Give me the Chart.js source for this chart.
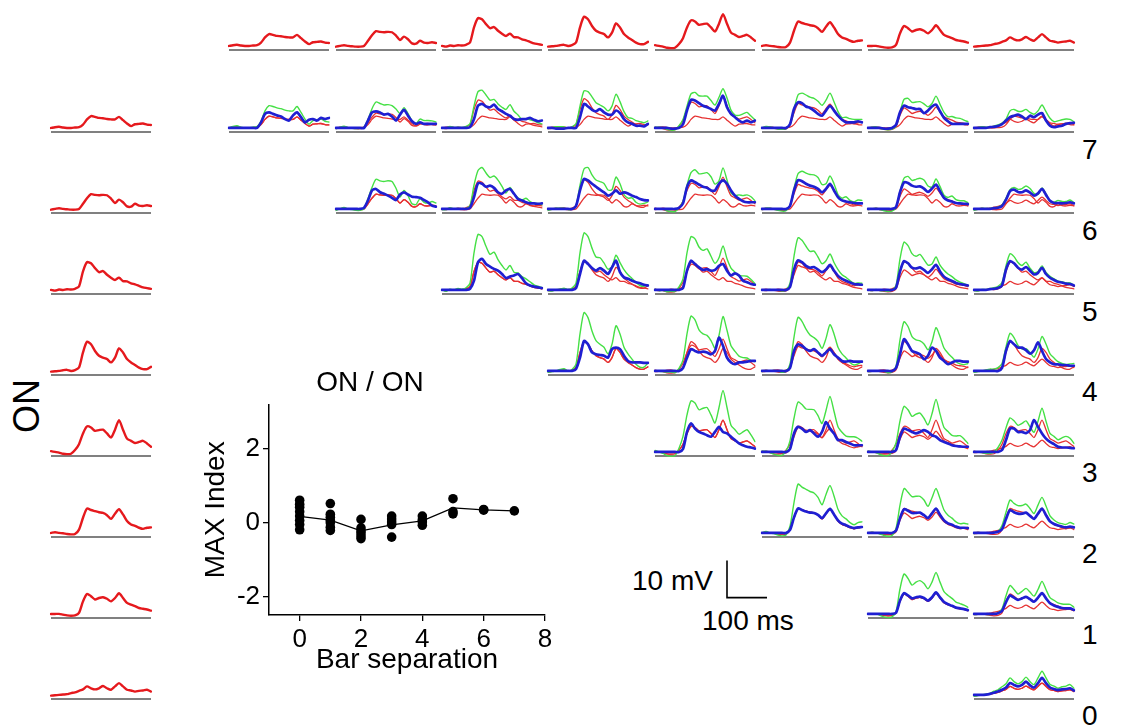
<!DOCTYPE html>
<html>
<head>
<meta charset="utf-8">
<script src="https://cdn.jsdelivr.net/npm/chart.js@4.4.1/dist/chart.umd.min.js"></script>
<style>
  html, body { margin: 0; padding: 0; background: #fff; }
  #fig { position: relative; width: 1141px; height: 726px; overflow: hidden;
         font-family: "Liberation Sans", Arial, Helvetica, sans-serif; color: #000; }
  #fig canvas { position: absolute; }
  .lbl { position: absolute; font-size: 28px; line-height: 1; white-space: nowrap; }
</style>
</head>
<body>
<div id="fig"></div>
<script>
// sample times of every trace (ms)
const timeMs = [0,10,20,30,40,50,60,70,80,90,100,110,120,130,140,150,160,170,180,190,200,210,220,230,240,250];

// single bar responses (mV above rest), bar positions 0..7
const bar0 = [0,0.2,0.3,0.1,0,0,0.1,0.2,0.9,2.3,3.2,3.0,2.7,2.6,2.4,2.3,2.3,3.0,2.1,1.2,0.5,1.0,1.1,1.2,0.9,0.8];
const bar1 = [-0.2,0,0.2,0,-0.1,-0.2,-0.2,0,1.4,2.9,4.0,3.8,3.7,3.8,3.7,2.8,1.6,2.5,1.8,0.7,0.6,1.4,0.9,0.8,1.0,0.8];
const bar2 = [0,-0.2,0.1,0,0.2,0.1,0.3,0.9,5.0,7.5,7.2,5.9,4.8,5.1,4.1,3.3,2.7,3.3,2.4,2.3,1.8,1.5,1.1,0.7,0.5,0.3];
const bar3 = [-0.2,-0.1,0,0.2,0.3,0,0.2,0.9,5.0,7.9,7.2,5.4,4.1,3.6,3.2,2.3,3.6,6.1,5.0,3.2,2.3,1.6,0.9,0.5,0.5,1.1];
const bar4 = [0.2,0,-0.2,-0.5,-0.6,-0.5,0.5,2.1,5.0,6.9,6.6,5.7,5.9,6.0,5.0,3.9,6.0,8.6,6.0,3.6,3.0,2.4,2.7,3.0,2.3,1.4];
const bar5 = [0,0.2,0,-0.1,-0.3,-0.4,-0.3,0.9,4.1,6.6,6.2,5.9,5.6,5.4,4.8,3.8,5.2,6.4,5.0,3.2,2.3,1.9,1.4,1.1,1.4,1.5];
const bar6 = [0,0,0,-0.2,-0.4,-0.5,-0.4,0.3,3.4,5.4,4.8,3.9,4.3,4.5,4.1,3.4,4.3,5.6,4.3,3.0,2.5,2.1,1.6,1.4,1.2,0.9];
const bar7 = [-0.2,-0.1,0,0.1,0.2,0.5,0.7,1.1,1.5,2.3,1.8,1.5,1.8,2.4,1.8,1.4,2.3,3.2,2.3,1.4,1.2,0.9,1.1,1.2,1.4,0.9];

// linear sum of the two single bar responses (green)
const sum00 = [0,0.4,0.6,0.2,0,0,0.2,0.4,1.8,4.6,6.0,5.8,5.4,5.2,4.8,4.6,4.6,5.8,4.2,2.4,1.0,2.0,2.2,2.4,1.8,1.6];
const sum01 = [-0.2,0.2,0.5,0.1,-0.1,-0.2,-0.1,0.2,2.3,5.2,7.0,6.6,6.2,6.3,6.0,5.1,3.9,5.5,3.9,1.9,1.1,2.4,2.0,2.0,1.9,1.6];
const sum02 = [0,0,0.4,0.1,0.2,0.1,0.4,1.1,5.9,9.8,10.2,8.9,7.5,7.7,6.5,5.6,5.0,6.3,4.5,3.5,2.3,2.5,2.2,1.9,1.4,1.1];
const sum03 = [-0.2,0.1,0.3,0.3,0.3,0,0.3,1.1,5.9,10.0,9.8,8.4,6.8,6.2,5.6,4.6,5.9,9.1,7.1,4.4,2.8,2.6,2.0,1.7,1.4,1.9];
const sum04 = [0.2,0.2,0.1,-0.4,-0.6,-0.5,0.6,2.3,5.9,9.2,9.6,8.7,8.6,8.6,7.4,6.2,8.3,10.6,8.1,4.8,3.5,3.4,3.8,4.2,3.2,2.2];
const sum05 = [0,0.4,0.3,0,-0.3,-0.4,-0.2,1.1,5.0,8.9,9.4,8.9,8.3,8.0,7.2,6.1,7.5,9.4,7.1,4.4,2.8,2.9,2.5,2.3,2.3,2.3];
const sum06 = [0,0.2,0.3,-0.1,-0.4,-0.5,-0.3,0.5,4.3,7.7,8.0,6.9,7.0,7.1,6.5,5.7,6.6,8.6,6.4,4.2,3.0,3.1,2.7,2.6,2.1,1.7];
const sum07 = [-0.2,0.1,0.3,0.2,0.2,0.5,0.8,1.3,2.4,4.6,5.0,4.5,4.5,5.0,4.2,3.7,4.6,6.2,4.4,2.6,1.7,1.9,2.2,2.4,2.3,1.7];
const sum11 = [-0.4,0,0.4,0,-0.2,-0.4,-0.4,0,2.8,5.8,8.0,7.6,7.4,7.6,7.4,5.6,3.2,5.0,3.6,1.4,1.2,2.8,1.8,1.6,2.0,1.6];
const sum12 = [-0.2,-0.2,0.3,0,0.1,-0.1,0.1,0.9,6.4,10.4,11.2,9.7,8.5,8.9,7.8,6.1,4.3,5.8,4.2,3.0,2.4,2.9,2.0,1.5,1.5,1.1];
const sum13 = [-0.4,-0.1,0.2,0.2,0.2,-0.2,0,0.9,6.4,10.8,11.2,9.2,7.8,7.4,6.9,5.1,5.2,8.6,6.8,3.9,2.9,3.0,1.8,1.3,1.5,1.9];
const sum14 = [0,0,0,-0.5,-0.7,-0.7,0.3,2.1,6.4,9.8,10.6,9.5,9.6,9.8,8.7,6.7,7.6,11.1,7.8,4.3,3.6,3.8,3.6,3.8,3.3,2.2];
const sum15 = [-0.2,0.2,0.2,-0.1,-0.4,-0.6,-0.5,0.9,5.5,9.5,10.2,9.7,9.3,9.2,8.5,6.6,6.8,8.9,6.8,3.9,2.9,3.3,2.3,1.9,2.4,2.3];
const sum16 = [-0.2,0,0.2,-0.2,-0.5,-0.7,-0.6,0.3,4.8,8.3,8.8,7.7,8.0,8.3,7.8,6.2,5.9,8.1,6.1,3.7,3.1,3.5,2.5,2.2,2.2,1.7];
const sum17 = [-0.4,-0.1,0.2,0.1,0.1,0.3,0.5,1.1,2.9,5.2,5.8,5.3,5.5,6.2,5.5,4.2,3.9,5.7,4.1,2.1,1.8,2.3,2.0,2.0,2.4,1.7];
const sum22 = [0,-0.4,0.2,0,0.4,0.2,0.6,1.8,10.0,15.0,14.4,11.8,9.6,10.2,8.2,6.6,5.4,6.6,4.8,4.6,3.6,3.0,2.2,1.4,1.0,0.6];
const sum23 = [-0.2,-0.3,0.1,0.2,0.5,0.1,0.5,1.8,10.0,15.4,14.4,11.3,8.9,8.7,7.3,5.6,6.3,9.4,7.4,5.5,4.1,3.1,2.0,1.2,1.0,1.4];
const sum24 = [0.2,-0.2,-0.1,-0.5,-0.4,-0.4,0.8,3.0,10.0,14.4,13.8,11.6,10.7,11.1,9.1,7.2,8.7,11.9,8.4,5.9,4.8,3.9,3.8,3.7,2.8,1.7];
const sum25 = [0,0,0.1,-0.1,-0.1,-0.3,0,1.8,9.1,14.1,13.4,11.8,10.4,10.5,8.9,7.1,7.9,9.7,7.4,5.5,4.1,3.4,2.5,1.8,1.9,1.8];
const sum26 = [0,-0.2,0.1,-0.2,-0.2,-0.4,-0.1,1.2,8.4,12.9,12.0,9.8,9.1,9.6,8.2,6.7,7.0,8.9,6.7,5.3,4.3,3.6,2.7,2.1,1.7,1.2];
const sum27 = [-0.2,-0.3,0.1,0.1,0.4,0.6,1.0,2.0,6.5,9.8,9.0,7.4,6.6,7.5,5.9,4.7,5.0,6.5,4.7,3.7,3.0,2.4,2.2,1.9,1.9,1.2];
const sum33 = [-0.4,-0.2,0,0.4,0.6,0,0.4,1.8,10.0,15.8,14.4,10.8,8.2,7.2,6.4,4.6,7.2,12.2,10.0,6.4,4.6,3.2,1.8,1.0,1.0,2.2];
const sum34 = [0,-0.1,-0.2,-0.3,-0.3,-0.5,0.7,3.0,10.0,14.8,13.8,11.1,10.0,9.6,8.2,6.2,9.6,14.7,11.0,6.8,5.3,4.0,3.6,3.5,2.8,2.5];
const sum35 = [-0.2,0.1,0,0.1,0,-0.4,-0.1,1.8,9.1,14.5,13.4,11.3,9.7,9.0,8.0,6.1,8.8,12.5,10.0,6.4,4.6,3.5,2.3,1.6,1.9,2.6];
const sum36 = [-0.2,-0.1,0,0,-0.1,-0.5,-0.2,1.2,8.4,13.3,12.0,9.3,8.4,8.1,7.3,5.7,7.9,11.7,9.3,6.2,4.8,3.7,2.5,1.9,1.7,2.0];
const sum37 = [-0.4,-0.2,0,0.3,0.5,0.5,0.9,2.0,6.5,10.2,9.0,6.9,5.9,6.0,5.0,3.7,5.9,9.3,7.3,4.6,3.5,2.5,2.0,1.7,1.9,2.0];
const sum44 = [0.4,0,-0.4,-1.0,-1.2,-1.0,1.0,4.2,10.0,13.8,13.2,11.4,11.8,12.0,10.0,7.8,12.0,16.6,12.0,7.2,6.0,4.8,5.4,6.0,4.6,2.8];
const sum45 = [0.2,0.2,-0.2,-0.6,-0.9,-0.9,0.2,3.0,9.1,13.5,12.8,11.6,11.5,11.4,9.8,7.7,11.2,15.0,11.0,6.8,5.3,4.3,4.1,4.1,3.7,2.9];
const sum46 = [0.2,0,-0.2,-0.7,-1.0,-1.0,0.1,2.4,8.4,12.3,11.4,9.6,10.2,10.5,9.1,7.3,10.3,14.2,10.3,6.6,5.5,4.5,4.3,4.4,3.5,2.3];
const sum47 = [0,-0.1,-0.2,-0.4,-0.4,0,1.2,3.2,6.5,9.2,8.4,7.2,7.7,8.4,6.8,5.3,8.3,11.8,8.3,5.0,4.2,3.3,3.8,4.2,3.7,2.3];
const sum55 = [0,0.4,0,-0.2,-0.6,-0.8,-0.6,1.8,8.2,13.2,12.4,11.8,11.2,10.8,9.6,7.6,10.4,12.8,10.0,6.4,4.6,3.8,2.8,2.2,2.8,3.0];
const sum56 = [0,0.2,0,-0.3,-0.7,-0.9,-0.7,1.2,7.5,12.0,11.0,9.8,9.9,9.9,8.9,7.2,9.5,12.0,9.3,6.2,4.8,4.0,3.0,2.5,2.6,2.4];
const sum57 = [-0.2,0.1,0,0,-0.1,0.1,0.4,2.0,5.6,8.9,8.0,7.4,7.4,7.8,6.6,5.2,7.5,9.6,7.3,4.6,3.5,2.8,2.5,2.3,2.8,2.4];
const sum66 = [0,0,0,-0.4,-0.8,-1.0,-0.8,0.6,6.8,10.8,9.6,7.8,8.6,9.0,8.2,6.8,8.6,11.2,8.6,6.0,5.0,4.2,3.2,2.8,2.4,1.8];
const sum67 = [-0.2,-0.1,0,-0.1,-0.2,0,0.3,1.4,4.9,7.7,6.6,5.4,6.1,6.9,5.9,4.8,6.6,8.8,6.6,4.4,3.7,3.0,2.7,2.6,2.6,1.8];
const sum77 = [-0.4,-0.2,0,0.2,0.4,1.0,1.4,2.2,3.0,4.6,3.6,3.0,3.6,4.8,3.6,2.8,4.6,6.4,4.6,2.8,2.4,1.8,2.2,2.4,2.8,1.8];

// measured response to the bar pair (blue)
const pair00 = [0,0,0,0,0,0,0,0,1.5,3.8,4.2,3.8,3.4,3.1,2.4,2.0,3.4,4.2,2.9,1.5,2.2,2.4,2.0,2.7,2.4,2.7];
const pair01 = [0,0,0,0,0,0,0,0,2.0,4.2,4.5,4.2,3.6,3.8,3.1,2.0,3.6,4.9,3.3,1.8,1.1,1.5,1.1,1.1,1.1,1.1];
const pair02 = [0,0,0,0,0,0,0,0.2,2.4,6.0,6.5,5.8,5.6,6.3,5.1,4.5,3.8,3.3,2.4,2.2,2.4,2.4,2.7,2.2,1.8,2.0];
const pair03 = [0,0,-0.2,-0.2,-0.2,0,0,0,2.9,6.5,5.8,4.9,4.5,5.1,4.2,3.6,3.6,4.7,4.0,2.4,1.5,1.1,0.6,0.6,0.4,1.1];
const pair04 = [0,0,0,0,-0.2,-0.2,0,1.0,4.7,7.6,7.4,6.7,6.0,5.6,5.1,4.7,6.5,8.7,5.6,3.8,2.9,2.0,1.5,2.0,1.5,2.0];
const pair05 = [0,0,0,0,0,0,0,1.0,5.1,6.9,6.7,5.8,5.4,4.7,3.8,3.3,4.7,6.0,4.7,3.3,2.2,1.5,1.5,1.5,1.8,1.5];
const pair06 = [0,0,0,0,-0.2,-0.2,0,0.8,4.2,6.0,5.6,5.4,5.1,5.1,4.0,4.7,5.8,6.3,4.5,2.7,1.8,1.1,1.1,1.1,1.1,1.1];
const pair07 = [0,0,0,0,0.2,0.3,0.5,1.0,2.0,2.9,3.3,3.6,3.1,2.4,3.3,2.9,3.6,4.0,2.0,0.6,0.2,0.4,0.6,1.1,1.3,1.4];
const pair11 = [0,0,0,0,0,0,0,0.3,2.3,5.0,5.4,4.5,4.1,3.6,3.0,2.4,3.9,4.5,3.9,3.3,3.2,3.0,2.4,1.8,0.9,0.6];
const pair12 = [0,0,0,0,0,0,0,0.3,3.2,6.9,6.8,6.0,6.3,5.7,4.5,4.1,5.0,5.4,4.1,2.7,2.3,1.8,1.5,1.5,1.4,1.5];
const pair13 = [0,0,0,0,0,0,0,0.8,5.0,8.1,7.7,6.8,6.0,5.2,4.5,3.6,4.1,5.0,4.1,4.5,4.2,3.6,3.2,2.7,2.4,2.3];
const pair14 = [0,0,0,0,0,0,0.3,1.5,5.9,7.7,7.2,6.6,6.0,5.7,5.0,5.0,6.8,7.7,6.8,5.0,3.6,2.7,2.1,1.8,1.8,1.8];
const pair15 = [0,0,0,0,0,0,0,0.8,5.0,7.8,7.5,6.8,6.3,6.0,5.4,4.5,5.4,6.8,5.0,3.2,2.3,2.0,1.8,1.6,1.5,1.5];
const pair16 = [0,0,0,0,0,0,0,0.5,4.5,7.2,7.0,6.3,6.0,6.1,5.5,4.6,5.5,6.6,4.8,3.0,2.3,2.0,1.6,1.5,1.4,1.3];
const pair17 = [0,0,0,0,0,0.2,0.3,0.8,2.5,4.8,5.2,4.6,4.5,5.0,4.4,3.6,4.2,5.4,3.8,2.2,1.6,1.6,1.5,1.6,1.8,1.5];
const pair22 = [0,0,0,0,0,0,0,0.3,2.5,7.5,8.4,7.0,6.3,5.7,5.2,4.3,3.2,3.6,3.9,4.3,3.2,1.8,1.2,0.9,0.7,0.5];
const pair23 = [0,0,0,0,0,0,0,0.5,4.3,7.9,7.0,5.9,5.2,5.9,5.2,4.3,6.1,7.9,4.8,3.4,3.0,2.5,2.1,1.8,1.4,1.2];
const pair24 = [0,0,0,0,0,0,0,0.5,5.2,7.9,7.0,6.1,5.4,5.6,5.2,5.4,6.5,7.0,5.2,3.9,4.5,3.9,2.5,2.1,1.6,1.4];
const pair25 = [0,0,0,0,0,0,0,0.8,5.5,8.0,7.5,6.5,6.0,6.2,5.5,4.8,5.5,6.8,5.2,3.8,3.0,2.5,2.0,1.6,1.5,1.4];
const pair26 = [0,0,0,0,0,0,0,0.6,5.0,7.8,7.2,6.0,5.8,6.1,5.4,4.6,5.6,6.8,5.0,3.6,2.9,2.4,1.9,1.6,1.4,1.2];
const pair27 = [0,0,0,0,0.2,0.3,0.5,1.2,5.5,7.8,7.2,6.0,5.5,6.2,5.2,4.2,4.6,6.0,4.3,3.3,2.7,2.2,2.0,1.7,1.6,1.2];
const pair33 = [0,0,0,0,0,0,0,0.5,3.6,8.1,7.2,5.0,4.5,4.3,4.1,3.6,5.9,6.3,5.9,4.1,2.7,2.3,2.3,2.3,2.2,2.2];
const pair34 = [0,0,0,0,0,0,0,0.8,3.6,5.9,5.4,5.0,5.2,5.0,4.5,5.4,9.0,6.8,3.6,2.3,1.8,2.3,2.3,2.5,2.7,2.7];
const pair35 = [0,0,0,0,0,0,0,0.8,5.4,7.2,6.8,5.9,5.4,5.9,5.0,4.1,5.0,5.9,4.5,3.6,2.7,2.5,2.7,2.5,2.5,2.5];
const pair36 = [0,0,0,0,0,0,0,0.8,4.5,8.6,7.2,5.4,5.0,4.5,3.2,4.1,6.3,5.4,3.6,2.7,1.8,2.3,2.7,2.7,2.5,2.5];
const pair37 = [0,0,0,0,0,0,0,0.8,5.4,8.1,7.2,6.3,6.3,5.6,4.7,5.6,7.7,5.4,3.2,2.3,1.8,1.8,1.6,1.6,1.4,1.4];
const pair44 = [0,0,0,0,0,0,0,0.8,5.4,7.7,6.3,5.4,5.0,4.5,4.1,5.4,6.8,5.4,5.0,4.1,3.2,2.3,1.8,1.4,1.2,0.9];
const pair45 = [0,0,0,0,0,0,0,0.8,5.0,6.8,6.3,5.4,5.9,5.0,4.1,5.4,8.1,6.3,5.0,3.2,3.2,2.7,2.3,1.8,1.8,1.8];
const pair46 = [0,0,0,0,0,0,0,0.5,4.1,6.3,5.9,5.4,5.0,5.4,5.9,5.4,4.5,4.1,3.2,2.7,2.3,1.8,1.6,1.5,1.4,1.4];
const pair47 = [0,0,0,0,0,0,0,0.5,3.2,6.3,6.3,5.4,5.4,5.1,5.9,8.6,6.8,5.0,3.6,2.7,2.1,1.4,1.2,1.2,1.1,1.0];
const pair55 = [0,0,0,0,0,0,0,0.8,4.2,6.6,6.2,5.8,5.5,5.4,4.9,4.0,5.3,6.5,5.0,3.4,2.5,2.1,1.6,1.3,1.5,1.6];
const pair56 = [0,0,0,0,0,0,0,0.6,4.0,6.4,6.0,5.4,5.4,5.5,4.8,4.0,5.3,6.6,4.9,3.4,2.6,2.2,1.7,1.4,1.4,1.3];
const pair57 = [0,0,0,0,0,0.1,0.3,1.0,3.8,6.2,5.6,5.2,5.2,5.5,4.6,3.8,5.2,6.6,4.8,3.1,2.4,2.0,1.7,1.5,1.7,1.5];
const pair66 = [0,0,0,0,0,0,0,0.3,3.6,5.6,5.0,4.2,4.5,4.7,4.3,3.6,4.5,5.8,4.5,3.2,2.6,2.2,1.7,1.5,1.3,1.0];
const pair67 = [0,0,0,0,0,0,0.2,0.8,3.2,5.0,4.4,3.8,4.2,4.6,4.0,3.3,4.4,5.6,4.2,2.9,2.3,1.9,1.6,1.5,1.5,1.1];
const pair77 = [0,0,0,0.1,0.3,0.6,0.9,1.4,2.0,3.2,2.7,2.3,2.7,3.6,2.6,2.0,3.2,4.6,3.2,2.0,1.6,1.3,1.5,1.6,1.8,1.2];

// inset: MAX index per cell against bar separation
const sepOfPoint = [0,0,0,0,0,0,0,0, 1,1,1,1,1,1,1, 2,2,2,2,2,2, 3,3,3,3,3, 4,4,4,4, 5,5,5, 6,6, 7];
const maxIndex   = [0.61,0.5,0.42,0.3,0.18,0.06,-0.05,-0.19, 0.52,0.23,0.15,0.06,0,-0.12,-0.21,
                    0.09,-0.14,-0.22,-0.28,-0.36,-0.43, 0.18,0.1,0.02,-0.05,-0.39, 0.18,0.08,0.02,-0.07,
                    0.65,0.3,0.24, 0.34,0.36, 0.32];
const separations = [0,1,2,3,4,5,6,7];
const meanIndex   = [0.17,0.07,-0.22,-0.06,0.05,0.4,0.35,0.32];
const sepTicks = [0,2,4,6,8];
const indexTicks = [-2,0,2];

// scale bar
const scaleBarMs = 100;
const scaleBarMv = 10;
const rowLabels = ["7","6","5","4","3","2","1","0"];

const bars = [bar0, bar1, bar2, bar3, bar4, bar5, bar6, bar7];
const cells = [
  [0,0,sum00,pair00],[0,1,sum01,pair01],[0,2,sum02,pair02],[0,3,sum03,pair03],
  [0,4,sum04,pair04],[0,5,sum05,pair05],[0,6,sum06,pair06],[0,7,sum07,pair07],
  [1,1,sum11,pair11],[1,2,sum12,pair12],[1,3,sum13,pair13],[1,4,sum14,pair14],
  [1,5,sum15,pair15],[1,6,sum16,pair16],[1,7,sum17,pair17],
  [2,2,sum22,pair22],[2,3,sum23,pair23],[2,4,sum24,pair24],[2,5,sum25,pair25],
  [2,6,sum26,pair26],[2,7,sum27,pair27],
  [3,3,sum33,pair33],[3,4,sum34,pair34],[3,5,sum35,pair35],[3,6,sum36,pair36],[3,7,sum37,pair37],
  [4,4,sum44,pair44],[4,5,sum45,pair45],[4,6,sum46,pair46],[4,7,sum47,pair47],
  [5,5,sum55,pair55],[5,6,sum56,pair56],[5,7,sum57,pair57],
  [6,6,sum66,pair66],[6,7,sum67,pair67],
  [7,7,sum77,pair77],
];

const FONT = '"Liberation Sans", Arial, Helvetica, sans-serif';
const PX_PER_MV = 3.7;
const PX_PER_MS = 0.4;
const REST_LINE = -1.1;
const colLeft = [229, 336, 442, 548, 655, 762, 868, 974];
const rowBase = [131.5, 212.5, 293.5, 374.5, 455.5, 536.5, 617.5, 698.5];
const topBase = 49.5;
const leftX = 51;

const fig = document.getElementById("fig");
Chart.defaults.font.family = FONT;

// grey line under each trace, at the rest level of the y scale
const baseline = {
  id: "baseline",
  beforeDatasetsDraw(chart) {
    const { ctx, chartArea, scales } = chart;
    const y = scales.y.getPixelForValue(REST_LINE);
    ctx.save();
    ctx.strokeStyle = "#808080";
    ctx.lineWidth = 2;
    ctx.beginPath();
    ctx.moveTo(chartArea.left, y);
    ctx.lineTo(chartArea.right, y);
    ctx.stroke();
    ctx.restore();
  },
};

function addCanvas(left, top, w, h) {
  const cv = document.createElement("canvas");
  cv.width = w;
  cv.height = h;
  cv.style.left = left + "px";
  cv.style.top = top + "px";
  fig.appendChild(cv);
  return cv;
}

function traceChart(left, base, datasets) {
  const H = 80;
  const cv = addCanvas(left - 2, base + 4 - H, 104, H);
  const yMin = REST_LINE - 4 / PX_PER_MV;
  new Chart(cv, {
    type: "line",
    data: { labels: timeMs, datasets: datasets },
    options: {
      responsive: false,
      animation: false,
      events: [],
      layout: { padding: { left: 2, right: 2, top: 0, bottom: 0 } },
      plugins: { legend: { display: false }, tooltip: { enabled: false } },
      elements: {
        point: { radius: 0 },
        line: { tension: 0.25, borderJoinStyle: "round", borderCapStyle: "round" },
      },
      scales: {
        x: { display: false },
        y: { display: false, min: yMin, max: yMin + H / PX_PER_MV },
      },
    },
    plugins: [baseline],
  });
}

const redThick = (data) => ({ data, borderColor: "#e5191d", borderWidth: 2.4 });

// top row and left column: single bars
bars.forEach((b, p) => {
  traceChart(colLeft[p], topBase, [redThick(b)]);
  traceChart(leftX, rowBase[p], [redThick(b)]);
});

// pair grid: blue on top, then green, then the two reds
cells.forEach(([i, j, sum, pair]) => {
  traceChart(colLeft[j], rowBase[i], [
    { data: pair, borderColor: "#1f1fd2", borderWidth: 2.7 },
    { data: sum, borderColor: "#45e045", borderWidth: 1.4 },
    { data: bars[i], borderColor: "#e63232", borderWidth: 1.3 },
    { data: bars[j], borderColor: "#e63232", borderWidth: 1.3 },
  ]);
});

// scale bar
(function () {
  const W = 60, H = 50;
  const cv = addCanvas(727 - 5 * PX_PER_MS, 598 + 2 * PX_PER_MV - H, W, H);
  new Chart(cv, {
    type: "line",
    data: {
      datasets: [{
        data: [{ x: 0, y: scaleBarMv }, { x: 0, y: 0 }, { x: scaleBarMs, y: 0 }],
        borderColor: "#000", borderWidth: 1.6, pointRadius: 0, tension: 0,
      }],
    },
    options: {
      responsive: false, animation: false, events: [],
      layout: { padding: 0 },
      plugins: { legend: { display: false }, tooltip: { enabled: false } },
      scales: {
        x: { type: "linear", display: false, min: -5, max: -5 + W / PX_PER_MS },
        y: { display: false, min: -2, max: -2 + H / PX_PER_MV },
      },
    },
  });
})();

// inset scatter
(function () {
  const cv = addCanvas(195, 366, 420, 315);
  const axisFont = { family: FONT, size: 26 };
  const titleFont = { family: FONT, size: 28, weight: "normal" };
  const axis = (min, max, ticks) => ({
    type: "linear",
    min, max,
    afterBuildTicks: (s) => { s.ticks = ticks.map((v) => ({ value: v })); },
    grid: { drawOnChartArea: false, color: "#000", tickLength: 6, lineWidth: 1.3 },
    border: { color: "#000", width: 1.5 },
    ticks: { font: axisFont, color: "#000", padding: 3, autoSkip: false, maxRotation: 0 },
  });
  const x = axis(-1, 8, sepTicks);
  x.afterFit = (s) => { s.height = 66; };
  x.title = { display: true, text: "Bar separation", font: titleFont, color: "#000", padding: 4 };
  const y = axis(-2.5, 3.2, indexTicks);
  y.afterFit = (s) => { s.width = 74; };
  y.title = { display: true, text: "MAX Index", font: titleFont, color: "#000", padding: 4 };
  new Chart(cv, {
    type: "scatter",
    data: {
      datasets: [
        {
          data: meanIndex.map((v, k) => ({ x: separations[k], y: v })),
          showLine: true, borderColor: "#000", borderWidth: 1.3, pointRadius: 0,
        },
        {
          data: maxIndex.map((v, k) => ({ x: sepOfPoint[k], y: v })),
          pointRadius: 4.8, backgroundColor: "#000", borderColor: "#000", borderWidth: 0,
        },
      ],
    },
    options: {
      responsive: false, animation: false, events: [],
      layout: { padding: { left: 0, right: 70, top: 0, bottom: 0 } },
      plugins: {
        legend: { display: false },
        tooltip: { enabled: false },
        title: { display: true, text: "ON / ON", font: titleFont, color: "#000", padding: { top: 0, bottom: 5 } },
      },
      scales: { x, y },
    },
  });
})();

// text labels
function label(text, left, top, extra) {
  const d = document.createElement("div");
  d.className = "lbl";
  d.textContent = text;
  d.style.left = left + "px";
  d.style.top = top + "px";
  if (extra) Object.assign(d.style, extra);
  fig.appendChild(d);
  return d;
}
rowLabels.forEach((t, k) => label(t, 1082, 136 + k * 80.8));
label("10 mV", 632, 567);
label("100 ms", 702, 607);
label("ON", 0, 388, { fontSize: "36px", transform: "rotate(-90deg)", transformOrigin: "center" });
</script>
</body>
</html>
